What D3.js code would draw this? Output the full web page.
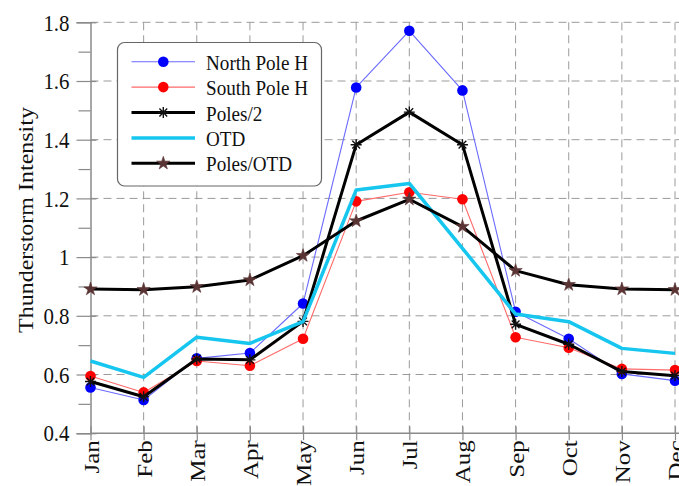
<!DOCTYPE html>
<html>
<head>
<meta charset="utf-8">
<script src="https://cdn.jsdelivr.net/npm/d3@7/dist/d3.min.js"></script>
<style>
  html, body { margin: 0; padding: 0; background: #fff; }
  svg { display: block; }
  text { font-family: "Liberation Serif", "Times New Roman", serif; fill: #111; }
</style>
</head>
<body>
<svg id="chart" width="679" height="486"></svg>
<script>
// Monthly thunderstorm intensity
const months = ["Jan","Feb","Mar","Apr","May","Jun","Jul","Aug","Sep","Oct","Nov","Dec"];
const northPole = [0.556, 0.513, 0.655, 0.673, 0.842, 1.578, 1.771, 1.568, 0.814, 0.722, 0.602, 0.579];
const southPole = [0.595, 0.539, 0.646, 0.630, 0.722, 1.190, 1.221, 1.197, 0.727, 0.691, 0.619, 0.615];
const polesHalf = [0.576, 0.524, 0.653, 0.650, 0.781, 1.383, 1.494, 1.383, 0.771, 0.703, 0.610, 0.596];
const otd       = [0.646, 0.590, 0.727, 0.706, 0.780, 1.229, 1.251, 1.030, 0.806, 0.780, 0.689, 0.672];
const polesOtd  = [0.891, 0.889, 0.899, 0.922, 1.005, 1.123, 1.197, 1.104, 0.954, 0.906, 0.891, 0.889];
const yTicks = [0.4, 0.6, 0.8, 1.0, 1.2, 1.4, 1.6, 1.8];
const yMinorTicks = [0.5, 0.7, 0.9, 1.1, 1.3, 1.5, 1.7];
const seriesNames = ["North Pole H", "South Pole H", "Poles/2", "OTD", "Poles/OTD"];

const W = 679, H = 486;
const plotLeft = 90.5, plotRight = 675, plotTop = 22.3, plotBottom = 433.2;
const SX = 0.87; // horizontal squeeze of the serif type

const svg = d3.select("#chart");
const x = d3.scalePoint().domain(months).range([plotLeft, plotRight]);
const y = d3.scaleLinear().domain([0.4, 1.8]).range([plotBottom, plotTop]);

const gridColor = "#9a9a9a";
const axisColor = "#8a8a8a";

// grid
const grid = svg.append("g");
grid.selectAll("line.h").data(yTicks.slice(1)).join("line")
  .attr("x1", plotLeft).attr("x2", W)
  .attr("y1", d => y(d)).attr("y2", d => y(d))
  .attr("stroke", gridColor).attr("stroke-width", 1).attr("stroke-dasharray", "8,5");
grid.selectAll("line.v").data(months.slice(1)).join("line")
  .attr("x1", d => x(d)).attr("x2", d => x(d))
  .attr("y1", plotTop).attr("y2", plotBottom)
  .attr("stroke", gridColor).attr("stroke-width", 1).attr("stroke-dasharray", "8,5");

// y axis
const yAxis = svg.append("g").attr("transform", `translate(${plotLeft},0)`)
  .call(d3.axisLeft(y).tickValues(yTicks).tickSize(14).tickPadding(6)
    .tickFormat(d => String(+d.toFixed(1))));
yAxis.select(".domain").attr("stroke", axisColor).attr("stroke-width", 1.5);
yAxis.selectAll(".tick line").attr("stroke", axisColor).attr("stroke-width", 1.2).attr("x2", 6).attr("x1", -14);
yAxis.selectAll(".tick text")
  .attr("font-size", 24).attr("x", null).attr("dy", null)
  .attr("text-anchor", "end")
  .attr("transform", `translate(-21,7.7) scale(${SX},1)`);
const yMinor = svg.append("g").attr("transform", `translate(${plotLeft},0)`)
  .call(d3.axisLeft(y).tickValues(yMinorTicks).tickSize(12).tickFormat(""));
yMinor.select(".domain").remove();
yMinor.selectAll(".tick line").attr("stroke", axisColor).attr("stroke-width", 1.2);

// x axis
const xAxis = svg.append("g").attr("transform", `translate(0,${plotBottom})`)
  .call(d3.axisBottom(x).tickSize(7).tickPadding(0));
xAxis.select(".domain").attr("stroke", axisColor).attr("stroke-width", 1.5).attr("d", `M${plotLeft},0H${W}`);
xAxis.selectAll(".tick line").attr("stroke", axisColor).attr("stroke-width", 1.2).attr("y1", -7).attr("y2", 7);
xAxis.selectAll(".tick text")
  .attr("font-size", 25).attr("y", null).attr("dy", null)
  .attr("text-anchor", "end")
  .attr("transform", `translate(7.5,7) scale(${SX},1) rotate(-90)`);

// y title
svg.append("text")
  .attr("font-size", 24)
  .attr("text-anchor", "middle")
  .attr("transform", `translate(33,220) scale(${SX},1) rotate(-90)`)
  .text("Thunderstorm Intensity");

// series
const line = d3.line().x((d, i) => x(months[i])).y(d => y(d));

// d3's star symbol: outer radius = sqrt(size * 0.8908)
function starPath(r) {
  return d3.symbol().type(d3.symbolStar).size(r * r / 0.8908)();
}
function asteriskPath(r) {
  const a = r * 0.7071;
  return `M${-r},0L${r},0M0,${-r}L0,${r}M${-a},${-a}L${a},${a}M${-a},${a}L${a},${-a}`;
}

const series = [
  { name: seriesNames[0], values: northPole, stroke: "#6a6aff", width: 1.1, marker: "circle", mfill: "#0000ff" },
  { name: seriesNames[1], values: southPole, stroke: "#ff6a6a", width: 1.1, marker: "circle", mfill: "#ff0000" },
  { name: seriesNames[2], values: polesHalf, stroke: "#000000", width: 3, marker: "asterisk", mfill: "#000000" },
  { name: seriesNames[3], values: otd, stroke: "#16c6ef", width: 3.5, marker: null },
  { name: seriesNames[4], values: polesOtd, stroke: "#000000", width: 3, marker: "star", mfill: "#5a3434" }
];

function drawMarker(g, s, cx, cy) {
  if (s.marker === "circle") {
    g.append("circle").attr("cx", cx).attr("cy", cy).attr("r", 5.3).attr("fill", s.mfill);
  } else if (s.marker === "asterisk") {
    g.append("path").attr("d", asteriskPath(5.5)).attr("transform", `translate(${cx},${cy})`)
      .attr("stroke", "#111").attr("stroke-width", 1.4).attr("fill", "none");
  } else if (s.marker === "star") {
    g.append("path").attr("d", starPath(7)).attr("transform", `translate(${cx},${cy})`)
      .attr("fill", s.mfill).attr("stroke", s.mfill).attr("stroke-width", 0.6)
      .attr("stroke-linejoin", "round");
  }
}

series.forEach(s => {
  const g = svg.append("g");
  g.append("path").attr("d", line(s.values))
    .attr("fill", "none").attr("stroke", s.stroke).attr("stroke-width", s.width)
    .attr("stroke-linejoin", "round");
  if (s.marker) s.values.forEach((v, i) => drawMarker(g, s, x(months[i]), y(v)));
});

// legend
const lg = svg.append("g");
lg.append("rect").attr("x", 117.5).attr("y", 42.5).attr("width", 204).attr("height", 143.5)
  .attr("rx", 7).attr("ry", 7).attr("fill", "#fff").attr("stroke", "#666").attr("stroke-width", 1.2);
series.forEach((s, i) => {
  const cy = 61.7 + i * 25.4;
  const row = lg.append("g");
  row.append("line").attr("x1", 131.5).attr("x2", 195).attr("y1", cy).attr("y2", cy)
    .attr("stroke", s.stroke).attr("stroke-width", s.width);
  if (s.marker) drawMarker(row, s, 163.3, cy);
  row.append("text").attr("font-size", 22)
    .attr("transform", `translate(206,${cy + 8}) scale(${SX},1)`)
    .text(s.name);
});
</script>
</body>
</html>
